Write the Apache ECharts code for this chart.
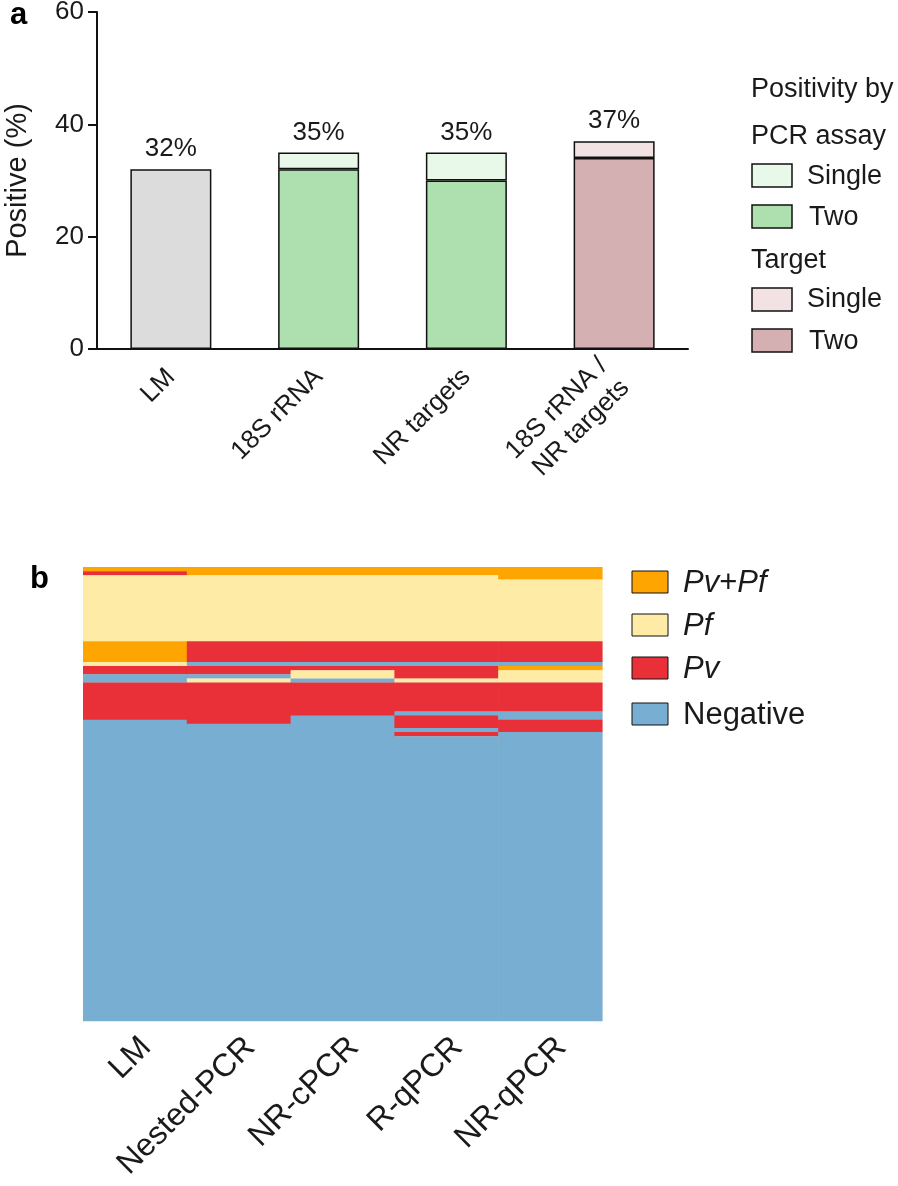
<!DOCTYPE html>
<html>
<head>
<meta charset="utf-8">
<script src="https://cdn.jsdelivr.net/npm/echarts@6/dist/echarts.min.js"></script>
<style>
html,body{margin:0;padding:0;background:#fff;}
#c{width:898px;height:1186px;}
</style>
</head>
<body>
<div id="c"></div>
<script>
// ---------- Panel a data ----------
const catsA = ['LM', '18S rRNA', 'NR targets', '18S rRNA /\nNR targets'];
const lmVals = [32, null, null, null];
const pcrTwo = [null, 32, 30, null];
const pcrSingle = [null, 3, 5, null];
const tgtTwo = [null, null, null, 34];
const tgtSingle = [null, null, null, 3];
const totalLabels = ['32%', '35%', '35%', '37%'];
const yTicksA = [0, 20, 40, 60];

// ---------- Panel b data ----------
const methods = ['LM', 'Nested-PCR', 'NR-cPCR', 'R-qPCR', 'NR-qPCR'];
const resultNames = ['Negative', 'Pv', 'Pf', 'Pv+Pf'];
const nSamples = 110;
// runs of [resultCode, sampleCount] from top to bottom (0 Negative, 1 Pv, 2 Pf, 3 Pv+Pf)
const runsLM     = [[3,1],[1,1],[2,16],[3,5],[2,1],[1,2],[0,2],[1,9],[0,73]];
const runsNested = [[3,2],[2,16],[1,5],[0,1],[1,2],[0,1],[2,1],[1,10],[0,72]];
const runsNRc    = [[3,2],[2,16],[1,5],[0,1],[1,1],[2,2],[0,1],[1,8],[0,74]];
const runsRq     = [[3,2],[2,16],[1,5],[0,1],[1,3],[2,1],[1,7],[0,1],[1,3],[0,1],[1,1],[0,69]];
const runsNRq    = [[3,3],[2,15],[1,5],[0,1],[3,1],[2,3],[1,7],[0,2],[1,3],[0,70]];

const FONT = 'Liberation Sans, Arial, Helvetica, sans-serif';
const TXT = '#1a1a1a';
const colA = {lm:'#dcdcdc', pcrTwo:'#aedfae', pcrSingle:'#e9f9e9', tgtTwo:'#d5b0b2', tgtSingle:'#f3e2e4'};
const colB = ['#77aed1', '#e92f37', '#feeba6', '#fea502'];

// build segment rows for custom series
const allRuns = [runsLM, runsNested, runsNRc, runsRq, runsNRq];
const segs = [];
allRuns.forEach((runs, ci) => {
  let start = 0;
  runs.forEach(([code, cnt]) => { segs.push([ci, start, cnt, code]); start += cnt; });
});

const chart = echarts.init(document.getElementById('c'), null, {renderer:'canvas'});

function topLabel() {
  return {
    show: true, position: 'top', distance: 7,
    fontFamily: FONT, fontSize: 26, color: TXT,
    formatter: p => totalLabels[p.dataIndex]
  };
}
const barBase = {type:'bar', stack:'a', xAxisIndex:0, yAxisIndex:0, barWidth:81};
const bs = c => ({color:c, borderColor:'#111', borderWidth:1.5});

const FA = 27; // legend a font
const FB = 31; // legend b font
const option = {
  animation: false,
  textStyle: {fontFamily: FONT},
  grid: [
    {left: 97, top: 12, width: 591, height: 337, outerBoundsMode:'none', containLabel:false},
    {left: 83, top: 567, width: 519, height: 454, outerBoundsMode:'none', containLabel:false}
  ],
  xAxis: [
    {type:'category', gridIndex:0, data: catsA,
     axisLine:{lineStyle:{color:'#111', width:2}},
     axisTick:{alignWithLabel:true, length:9, lineStyle:{color:'#111', width:2}},
     axisLabel:{rotate:45, fontSize:26, color:TXT, margin:24, fontFamily:FONT, lineHeight:31, align:'right'}},
    {type:'category', gridIndex:1, data: methods,
     axisLine:{show:false}, axisTick:{show:false},
     axisLabel:{rotate:45, fontSize:32, color:TXT, margin:10, fontFamily:FONT, verticalAlign:'top'}}
  ],
  yAxis: [
    {type:'value', gridIndex:0, min:0, max:60, interval:20,
     name:'Positive (%)', nameLocation:'middle', nameGap:65, nameRotate:90,
     nameTextStyle:{fontSize:29, color:TXT, fontFamily:FONT},
     axisLine:{show:true, lineStyle:{color:'#111', width:2}},
     axisTick:{show:true, length:9, lineStyle:{color:'#111', width:2}},
     splitLine:{show:false},
     axisLabel:{fontSize:26, color:TXT, margin:13, fontFamily:FONT,
       formatter: v => yTicksA.includes(v) ? String(v) : ''}},
    {type:'value', gridIndex:1, min:0, max:nSamples, inverse:true,
     axisLine:{show:false}, axisTick:{show:false}, axisLabel:{show:false}, splitLine:{show:false}}
  ],
  series: [
    Object.assign({}, barBase, {name:'LM', data: lmVals, itemStyle: bs(colA.lm), label: topLabel()}),
    Object.assign({}, barBase, {name:'PCR Two', data: pcrTwo, itemStyle: bs(colA.pcrTwo)}),
    Object.assign({}, barBase, {name:'PCR Single', data: pcrSingle, itemStyle: bs(colA.pcrSingle), label: topLabel()}),
    Object.assign({}, barBase, {name:'Target Two', data: tgtTwo, itemStyle: bs(colA.tgtTwo)}),
    Object.assign({}, barBase, {name:'Target Single', data: tgtSingle, itemStyle: bs(colA.tgtSingle), label: topLabel()}),
    {
      type:'custom', xAxisIndex:1, yAxisIndex:1, data: segs,
      renderItem: function (params, api) {
        const ci = api.value(0), s = api.value(1), n = api.value(2), code = api.value(3);
        const p = api.coord([ci, s]);
        const sz = api.size([1, n]);
        const w = sz[0];
        return {type:'rect', shape:{x: p[0] - w/2, y: p[1], width: w + 0.6, height: sz[1] + 0.3},
                style:{fill: colB[code]}};
      }
    }
  ],
  graphic: [
    {type:'text', left: 10, top: 0, style:{text:'a', font:'bold 31px '+FONT, fill:'#000'}},
    {type:'text', left: 30, top: 564, style:{text:'b', font:'bold 31px '+FONT, fill:'#000'}},
    // legend a
    {type:'text', x:751, y:90, style:{text:'Positivity by', font:FA+'px '+FONT, fill:TXT, verticalAlign:'middle'}},
    {type:'text', x:751, y:137, style:{text:'PCR assay', font:FA+'px '+FONT, fill:TXT, verticalAlign:'middle'}},
    {type:'rect', shape:{x:752, y:164, width:40, height:23}, style:{fill:colA.pcrSingle, stroke:'#111', lineWidth:1.5}},
    {type:'text', x:807, y:177, style:{text:'Single', font:FA+'px '+FONT, fill:TXT, verticalAlign:'middle'}},
    {type:'rect', shape:{x:752, y:205, width:40, height:23}, style:{fill:colA.pcrTwo, stroke:'#111', lineWidth:1.5}},
    {type:'text', x:809, y:218, style:{text:'Two', font:FA+'px '+FONT, fill:TXT, verticalAlign:'middle'}},
    {type:'text', x:751, y:261, style:{text:'Target', font:FA+'px '+FONT, fill:TXT, verticalAlign:'middle'}},
    {type:'rect', shape:{x:752, y:288, width:40, height:23}, style:{fill:colA.tgtSingle, stroke:'#111', lineWidth:1.5}},
    {type:'text', x:807, y:300, style:{text:'Single', font:FA+'px '+FONT, fill:TXT, verticalAlign:'middle'}},
    {type:'rect', shape:{x:752, y:329, width:40, height:23}, style:{fill:colA.tgtTwo, stroke:'#111', lineWidth:1.5}},
    {type:'text', x:809, y:342, style:{text:'Two', font:FA+'px '+FONT, fill:TXT, verticalAlign:'middle'}},
    // legend b
    {type:'rect', shape:{x:632, y:571, width:36, height:22}, style:{fill:colB[3], stroke:'#111', lineWidth:1}},
    {type:'text', x:683, y:583, style:{text:'{i|Pv}+{i|Pf}', font:FB+'px '+FONT, fill:TXT, verticalAlign:'middle',
       rich:{i:{fontStyle:'italic', fontSize:FB, fontFamily:FONT, fill:TXT}}}},
    {type:'rect', shape:{x:632, y:614, width:36, height:22}, style:{fill:colB[2], stroke:'#111', lineWidth:1}},
    {type:'text', x:683, y:626, style:{text:'Pf', font:'italic '+FB+'px '+FONT, fill:TXT, verticalAlign:'middle'}},
    {type:'rect', shape:{x:632, y:657, width:36, height:22}, style:{fill:colB[1], stroke:'#111', lineWidth:1}},
    {type:'text', x:683, y:669, style:{text:'Pv', font:'italic '+FB+'px '+FONT, fill:TXT, verticalAlign:'middle'}},
    {type:'rect', shape:{x:632, y:703, width:36, height:22}, style:{fill:colB[0], stroke:'#111', lineWidth:1}},
    {type:'text', x:683, y:715, style:{text:'Negative', font:FB+'px '+FONT, fill:TXT, verticalAlign:'middle'}}
  ]
};
chart.setOption(option);
</script>
</body>
</html>
